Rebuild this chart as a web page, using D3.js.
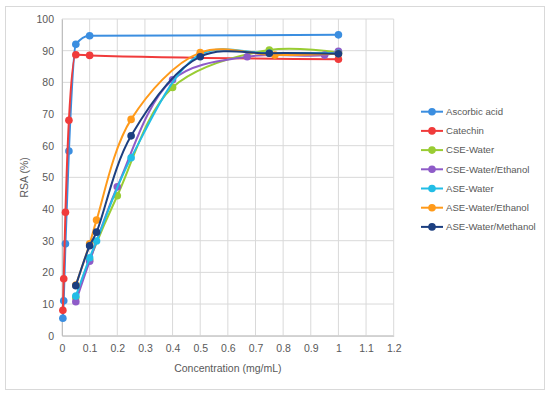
<!DOCTYPE html>
<html>
<head>
<meta charset="utf-8">
<script src="https://cdn.jsdelivr.net/npm/d3@7"></script>
<style>
  body { margin: 0; background: #fff; }
  svg { font-family: "Liberation Sans", "DejaVu Sans", sans-serif; }
</style>
</head>
<body>
<div id="chart"></div>
<script>
var seriesNames = ["Ascorbic acid", "Catechin", "CSE-Water", "CSE-Water/Ethanol", "ASE-Water", "ASE-Water/Ethanol", "ASE-Water/Methanol"];
var seriesColors = ["#3b8ee0", "#f03b3b", "#99cc33", "#8e5bc8", "#22bde6", "#ff9a1a", "#1c3f80"];

// concentration (mg/mL) of each series
var xAscorbic = [0.003125, 0.00625, 0.0125, 0.025, 0.05, 0.1, 1];
var xCatechin = [0.003125, 0.00625, 0.0125, 0.025, 0.05, 0.1, 1];
var xCseWater = [0.05, 0.1, 0.2, 0.4, 0.75, 1];
var xCseEthanol = [0.05, 0.1, 0.2, 0.4, 0.67, 0.95, 1];
var xAseWater = [0.05, 0.1, 0.125, 0.25, 0.5, 0.75, 1];
var xAseEthanol = [0.05, 0.1, 0.125, 0.25, 0.5, 0.77, 1];
var xAseMethanol = [0.05, 0.1, 0.125, 0.25, 0.5, 0.75, 1];

// RSA (%)
var yAscorbic = [5.5, 11, 29, 58.3, 92, 94.7, 95];
var yCatechin = [8, 18, 39, 68, 88.7, 88.5, 87.3];
var yCseWater = [12, 24, 44.2, 78.4, 90.2, 89.4];
var yCseEthanol = [10.7, 23.5, 47, 80.8, 88.1, 88.6, 89.8];
var yAseWater = [12.5, 24.6, 29.9, 56.2, 88.8, 89.2, 89.2];
var yAseEthanol = [16, 29, 36.5, 68.3, 89.4, 88.6, 89];
var yAseMethanol = [15.8, 28.4, 32.7, 63.1, 88.1, 89.2, 89];

var xTicks = [0, 0.1, 0.2, 0.3, 0.4, 0.5, 0.6, 0.7, 0.8, 0.9, 1, 1.1, 1.2];
var xTickLabels = ["0", "0.1", "0.2", "0.3", "0.4", "0.5", "0.6", "0.7", "0.8", "0.9", "1", "1.1", "1.2"];
var yTicks = [0, 10, 20, 30, 40, 50, 60, 70, 80, 90, 100];

var allX = [xAscorbic, xCatechin, xCseWater, xCseEthanol, xAseWater, xAseEthanol, xAseMethanol];
var allY = [yAscorbic, yCatechin, yCseWater, yCseEthanol, yAseWater, yAseEthanol, yAseMethanol];

var width = 550, height = 393;
var plotLeft = 62, plotRight = 393.7, plotTop = 19, plotBottom = 335.7;
var textColor = "#595959", gridColor = "#d9d9d9";

var svg = d3.select("#chart").append("svg")
    .attr("width", width)
    .attr("height", height);

// outer chart frame
svg.append("rect")
    .attr("x", 5.5).attr("y", 6.5)
    .attr("width", 539).attr("height", 383)
    .attr("fill", "#fff")
    .attr("stroke", gridColor);

var xScale = d3.scaleLinear().domain([0, 1.2]).range([plotLeft, plotRight]);
var yScale = d3.scaleLinear().domain([0, 100]).range([plotBottom, plotTop]);

// gridlines
svg.append("g").selectAll("line")
    .data(yTicks)
    .enter().append("line")
    .attr("x1", plotLeft).attr("x2", plotRight)
    .attr("y1", function(d) { return yScale(d); })
    .attr("y2", function(d) { return yScale(d); })
    .attr("stroke", gridColor);

svg.append("g").selectAll("line")
    .data(xTicks)
    .enter().append("line")
    .attr("x1", function(d) { return xScale(d); })
    .attr("x2", function(d) { return xScale(d); })
    .attr("y1", plotTop).attr("y2", plotBottom)
    .attr("stroke", gridColor);

// axes
var xAxis = svg.append("g")
    .attr("transform", "translate(0," + plotBottom + ")")
    .call(d3.axisBottom(xScale)
        .tickValues(xTicks)
        .tickSize(0)
        .tickPadding(9)
        .tickFormat(function(d, i) { return xTickLabels[i]; }));

var yAxis = svg.append("g")
    .attr("transform", "translate(" + plotLeft + ",0)")
    .call(d3.axisLeft(yScale)
        .tickValues(yTicks)
        .tickSize(0)
        .tickPadding(8));

[xAxis, yAxis].forEach(function(ax) {
    ax.select(".domain").attr("stroke", "#bfbfbf");
    ax.selectAll("text")
        .attr("fill", textColor)
        .attr("font-size", "10.5px")
        .attr("font-family", "Liberation Sans, sans-serif");
});

// axis titles
svg.append("text")
    .attr("x", (plotLeft + plotRight) / 2)
    .attr("y", 372)
    .attr("text-anchor", "middle")
    .attr("fill", textColor)
    .attr("font-size", "10.5px")
    .text("Concentration (mg/mL)");

svg.append("text")
    .attr("transform", "translate(28," + ((plotTop + plotBottom) / 2) + ") rotate(-90)")
    .attr("text-anchor", "middle")
    .attr("fill", textColor)
    .attr("font-size", "10.5px")
    .text("RSA (%)");

// series: standards stay flat after saturating, extracts get a looser spline
var flatLine = d3.line()
    .x(function(d) { return xScale(d[0]); })
    .y(function(d) { return yScale(d[1]); })
    .curve(d3.curveMonotoneX);

var smoothLine = d3.line()
    .x(function(d) { return xScale(d[0]); })
    .y(function(d) { return yScale(d[1]); })
    .curve(d3.curveCatmullRom.alpha(0.5));

seriesNames.forEach(function(name, s) {
    var pts = allX[s].map(function(x, i) { return [x, allY[s][i]]; });
    var g = svg.append("g");
    g.append("path")
        .datum(pts)
        .attr("d", s < 2 ? flatLine : smoothLine)
        .attr("fill", "none")
        .attr("stroke", seriesColors[s])
        .attr("stroke-width", 2);
    g.selectAll("circle")
        .data(pts)
        .enter().append("circle")
        .attr("cx", function(d) { return xScale(d[0]); })
        .attr("cy", function(d) { return yScale(d[1]); })
        .attr("r", 3.8)
        .attr("fill", seriesColors[s]);
});

// legend
var legend = svg.append("g").selectAll("g")
    .data(seriesNames)
    .enter().append("g")
    .attr("transform", function(d, i) { return "translate(421," + (111.7 + i * 19.2) + ")"; });

legend.append("line")
    .attr("x1", 0).attr("x2", 22)
    .attr("stroke", function(d, i) { return seriesColors[i]; })
    .attr("stroke-width", 2);

legend.append("circle")
    .attr("cx", 11).attr("r", 3.8)
    .attr("fill", function(d, i) { return seriesColors[i]; });

legend.append("text")
    .attr("x", 25)
    .attr("dy", "0.35em")
    .attr("fill", textColor)
    .attr("font-size", "9.6px")
    .text(function(d) { return d; });
</script>
</body>
</html>
